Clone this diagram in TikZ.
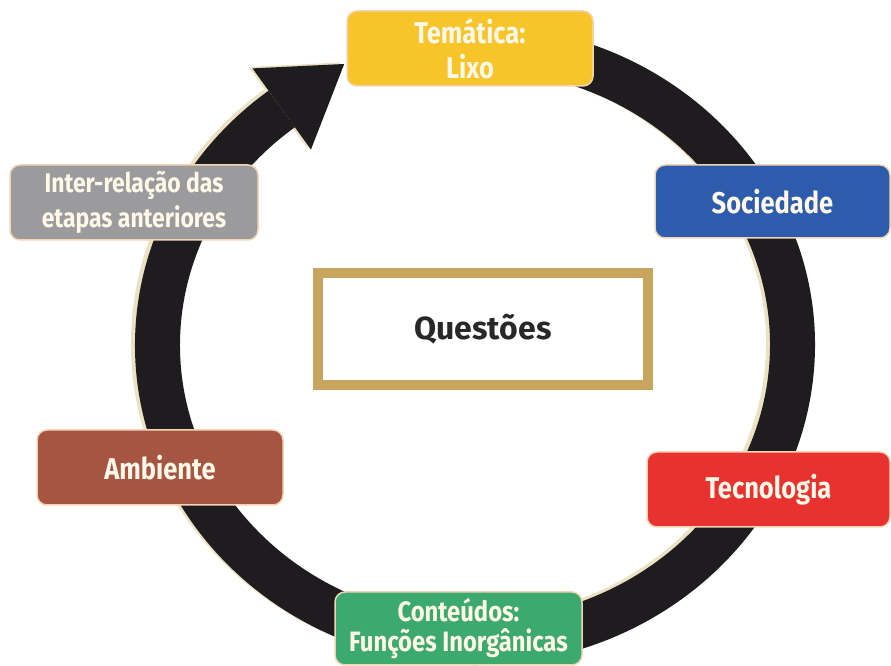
\documentclass[tikz,border=0pt]{standalone}
\usepackage{fontspec}
\setmainfont{Fira Sans}[FakeStretch=0.85]
\newfontfamily\fontelarga{Fira Sans}
\usetikzlibrary{arrows.meta,calc}

\definecolor{amarelo}{RGB}{247,196,42}
\definecolor{azul}{RGB}{45,92,172}
\definecolor{vermelho}{RGB}{232,50,48}
\definecolor{verde}{RGB}{60,170,110}
\definecolor{marrom}{RGB}{165,85,65}
\definecolor{cinza}{RGB}{155,155,158}
\definecolor{dourado}{RGB}{200,165,95}
\definecolor{anelpreto}{RGB}{30,28,30}
\definecolor{sombra}{RGB}{235,225,195}
\definecolor{borda}{RGB}{243,213,181}
\definecolor{letra}{RGB}{255,248,232}
\definecolor{escuro}{RGB}{40,40,40}

\tikzset{
  etapa/.style={draw=borda, line width=1.5pt, rounded corners=10pt, text=letra,
    font=\bfseries\fontsize{30}{35}\selectfont, align=center, inner sep=0pt,
    minimum width=246pt, minimum height=75pt},
  anel/.style={line width=45pt, -{Triangle[length=77pt,width=100pt,line width=0pt]}},
}

\begin{document}
\begin{tikzpicture}[x=1pt,y=1pt]
	\useasboundingbox (0,0) rectangle (891,666);
	\coordinate (centro) at (475,321);
	\coordinate (inicio) at ($(centro)+(85:317.5pt and 297.5pt)$);
	
	% anel: sombra creme e seta preta
	\draw[anel, sombra] ([shift={(-4,1.5)}]inicio)
		arc[start angle=85, end angle=-232.5, x radius=317.5, y radius=297.5] -- ++(62.5,45);
	\draw[anel, anelpreto] (inicio)
		arc[start angle=85, end angle=-232.5, x radius=317.5, y radius=297.5] -- ++(62.5,45);
	
	\node[etapa, fill=amarelo] (tematica) at (470,617.5) {Temática:\\Lixo};
	\node[etapa, fill=azul, minimum width=235pt, minimum height=73pt] (sociedade) at (772.5,464.5) {Sociedade};
	\node[etapa, fill=vermelho, minimum width=243pt] (tecnologia) at (768.5,176.5) {Tecnologia};
	\node[etapa, fill=verde, minimum width=247pt, minimum height=73pt,
		font=\bfseries\fontsize{28}{30}\selectfont] (conteudos) at (458.5,37.5) {Conteúdos:\\Funções Inorgânicas};
	\node[etapa, fill=marrom] (ambiente) at (160,198.5) {Ambiente};
	\node[etapa, fill=cinza, minimum width=248pt, font=\bfseries\fontsize{27}{35}\selectfont]
		(interrelacao) at (134,463.5) {Inter-relação das\\etapas anteriores};
	
	\node[draw=dourado, line width=10pt, fill=white, minimum width=330pt, minimum height=112pt,
		text=escuro, font=\fontelarga\bfseries\fontsize{32}{36}\selectfont] (questoes) at (483,337) {Questões};
\end{tikzpicture}
\end{document}
